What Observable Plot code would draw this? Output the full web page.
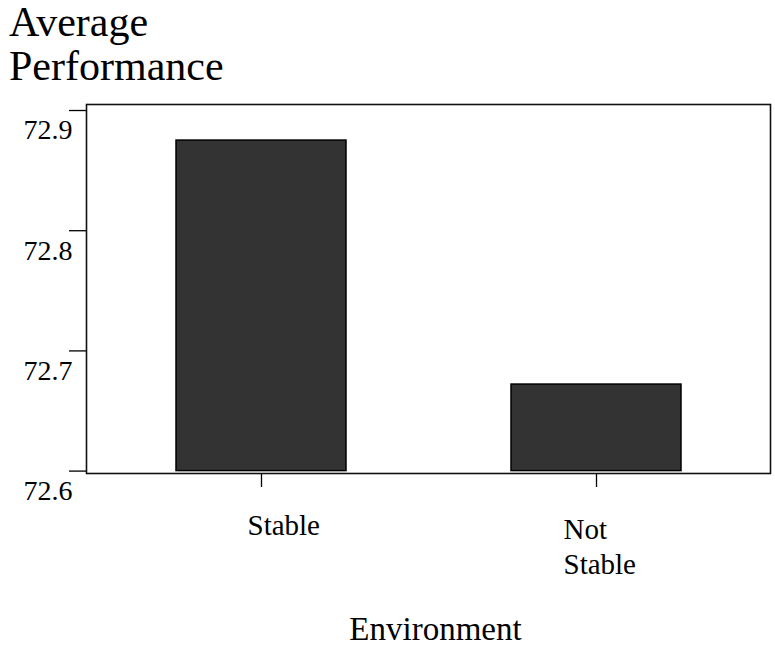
<!DOCTYPE html>
<html>
<head>
<meta charset="utf-8">
<script src="https://cdn.jsdelivr.net/npm/d3@7"></script>
<script src="https://cdn.jsdelivr.net/npm/@observablehq/plot@0.6"></script>
<style>
  html, body { margin: 0; padding: 0; background: white; }
  body { width: 775px; height: 655px; overflow: hidden; font-family: "Liberation Serif", "Times New Roman", Times, serif; color: #000; }
  #title { height: 90px; padding-left: 9px; font-size: 42px; line-height: 47px; white-space: pre; }
  #title .l1 { position: relative; top: -1px; }
  #title .l2 { position: relative; top: -4px; }
  #chart svg { display: block; }
  #caption { margin-top: 9px; padding-left: 96px; text-align: center; font-size: 33px; line-height: 40px; }
</style>
</head>
<body>
<div id="title"><div class="l1">Average</div><div class="l2">Performance</div></div>
<div id="chart"></div>
<div id="caption">Environment</div>
<script>
const categories = ["Stable", "Not Stable"];
const values = [72.875, 72.672];
const yTicks = [72.6, 72.7, 72.8, 72.9];
const baseline = 72.6;
const xTickLabels = {"Stable": "Stable", "Not Stable": "Not\nStable"};

const data = categories.map((c, i) => ({env: c, value: values[i]}));
const serif = "'Liberation Serif', 'Times New Roman', Times, serif";

const chart = Plot.plot({
  width: 775,
  height: 510,
  marginTop: 14,
  marginBottom: 127,
  marginLeft: 86,
  marginRight: 5,
  style: {fontFamily: serif, background: "white", color: "black"},
  x: {domain: categories, paddingInner: 0.494, paddingOuter: 0.265, label: null},
  y: {domain: [72.598, 72.905], label: null},
  marks: [
    Plot.barY(data, {x: "env", y1: baseline, y2: "value", fill: "#333333", stroke: "#000", strokeWidth: 1.5}),
    Plot.frame({stroke: "#111", strokeWidth: 1.6}),
    Plot.axisY({ticks: yTicks, tickSize: 17, tickFormat: () => "", strokeWidth: 1.3, label: null}),
    Plot.axisY({ticks: yTicks, tickSize: 0, tickPadding: 14, tickFormat: d => d.toFixed(1), fontSize: 28, dy: 20, label: null}),
    Plot.axisX({tickSize: 14, tickFormat: () => "", strokeWidth: 1.3, label: null}),
    Plot.axisX({ticks: ["Stable"], tickSize: 0, tickPadding: 41, dx: -14, textAnchor: "start", fontSize: 29, tickFormat: d => xTickLabels[d], label: null}),
    Plot.axisX({ticks: ["Not Stable"], tickSize: 0, tickPadding: 41, dx: -33, textAnchor: "start", fontSize: 29, lineHeight: 1.2, tickFormat: d => xTickLabels[d], label: null})
  ]
});
document.getElementById("chart").appendChild(chart);
</script>
</body>
</html>
